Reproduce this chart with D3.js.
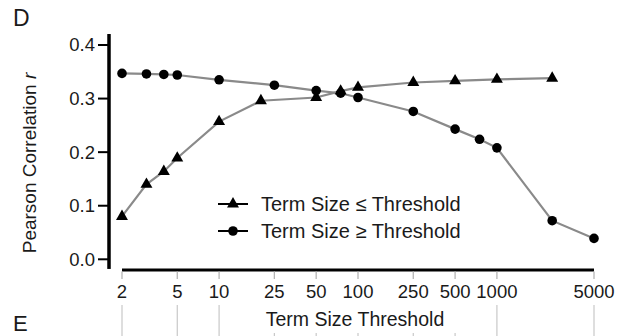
<!DOCTYPE html>
<html>
<head>
<meta charset="utf-8">
<script src="https://cdn.jsdelivr.net/npm/d3@7"></script>
<style>
  html, body { margin: 0; padding: 0; background: #fff; }
  svg { display: block; font-family: "Liberation Sans", Arial, Helvetica, sans-serif; }
</style>
</head>
<body>
<svg id="chart" width="629" height="336"></svg>
<script>
// Term size thresholds (x) and Pearson r for each cut-off direction
const thresholdsLE = [2, 3, 4, 5, 10, 20, 50, 75, 100, 250, 500, 1000, 2500];
const pearsonLE    = [0.080, 0.140, 0.164, 0.189, 0.257, 0.296, 0.302, 0.314, 0.321, 0.330, 0.333, 0.336, 0.338];

const thresholdsGE = [2, 3, 4, 5, 10, 25, 50, 75, 100, 250, 500, 750, 1000, 2500, 5000];
const pearsonGE    = [0.347, 0.346, 0.345, 0.344, 0.335, 0.325, 0.315, 0.310, 0.302, 0.276, 0.243, 0.224, 0.208, 0.072, 0.039];

const xTickValues = [2, 5, 10, 25, 50, 100, 250, 500, 1000, 5000];
const yTickValues = [0.0, 0.1, 0.2, 0.3, 0.4];

const seriesNames = ["Term Size \u2264 Threshold", "Term Size \u2265 Threshold"];

const svg = d3.select("#chart");
const ink = "#1a1a1a";

const x = d3.scaleLog().domain([2, 5000]).range([122, 594]);
const y = d3.scaleLinear().domain([0, 0.4]).range([259.3, 45]);

// Faint guide lines of the panel below, aligned with the x ticks
svg.append("g")
  .selectAll("line")
  .data(xTickValues)
  .join("line")
  .attr("x1", d => x(d)).attr("x2", d => x(d))
  .attr("y1", 305).attr("y2", 336)
  .attr("stroke", "#c8c8c8").attr("stroke-width", 1.2);

// Y axis: thick spine extending a little beyond the tick range
const yAxis = svg.append("g");
yAxis.append("line")
  .attr("x1", 109).attr("x2", 109)
  .attr("y1", y(0.4205)).attr("y2", y(-0.018))
  .attr("stroke", "#000").attr("stroke-width", 3.5);
yAxis.selectAll(".ytick")
  .data(yTickValues)
  .join("line")
  .attr("x1", 98).attr("x2", 109)
  .attr("y1", d => y(d)).attr("y2", d => y(d))
  .attr("stroke", "#000").attr("stroke-width", 2);
yAxis.selectAll(".ylab")
  .data(yTickValues)
  .join("text")
  .attr("x", 95).attr("y", d => y(d))
  .attr("dy", "0.35em")
  .attr("text-anchor", "end")
  .attr("font-size", 18.5)
  .attr("fill", ink)
  .text(d => d3.format(".1f")(d));

// X axis: thick spine spanning the domain, light ticks underneath
const xAxis = svg.append("g");
xAxis.append("line")
  .attr("x1", x(2)).attr("x2", x(5000))
  .attr("y1", 270).attr("y2", 270)
  .attr("stroke", "#000").attr("stroke-width", 3.2);
xAxis.selectAll(".xtick")
  .data(xTickValues)
  .join("line")
  .attr("x1", d => x(d)).attr("x2", d => x(d))
  .attr("y1", 271.5).attr("y2", 279)
  .attr("stroke", "#b5b5b5").attr("stroke-width", 1.3);
xAxis.selectAll(".xlab")
  .data(xTickValues)
  .join("text")
  .attr("x", d => x(d)).attr("y", 298)
  .attr("text-anchor", "middle")
  .attr("font-size", 18.5)
  .attr("fill", ink)
  .text(d => d);

// X axis title on a white plate
const xTitle = svg.append("g");
const xTitleText = xTitle.append("text")
  .attr("x", 355).attr("y", 326)
  .attr("text-anchor", "middle")
  .attr("font-size", 19.5)
  .attr("fill", ink)
  .text("Term Size Threshold");
const tb = xTitleText.node().getBBox();
xTitle.insert("rect", "text")
  .attr("x", tb.x - 15).attr("y", 303)
  .attr("width", tb.width + 30).attr("height", 30)
  .attr("fill", "#fff");

// Y axis title
const yTitle = svg.append("text")
  .attr("transform", "translate(36,163) rotate(-90)")
  .attr("text-anchor", "middle")
  .attr("font-size", 19)
  .attr("fill", ink);
yTitle.append("tspan").text("Pearson Correlation ");
yTitle.append("tspan").attr("font-style", "italic").text("r");

// Panel letters
svg.append("text").attr("x", 13).attr("y", 26)
  .attr("font-size", 23).attr("fill", ink).text("D");
svg.append("text").attr("x", 13).attr("y", 331)
  .attr("font-size", 22).attr("fill", ink).text("E");

// Series
const line = d3.line().x(d => x(d[0])).y(d => y(d[1]));
const triangle = d3.symbol().type(d3.symbolTriangle).size(62);
const circleR = 4.8;

const le = d3.zip(thresholdsLE, pearsonLE);
const ge = d3.zip(thresholdsGE, pearsonGE);

[le, ge].forEach(data => {
  svg.append("path")
    .datum(data)
    .attr("d", line)
    .attr("fill", "none")
    .attr("stroke", "#8a8a8a")
    .attr("stroke-width", 2.2);
});

svg.append("g").selectAll("path")
  .data(le)
  .join("path")
  .attr("d", triangle)
  .attr("transform", d => `translate(${x(d[0])},${y(d[1])})`)
  .attr("fill", "#000");

svg.append("g").selectAll("circle")
  .data(ge)
  .join("circle")
  .attr("cx", d => x(d[0])).attr("cy", d => y(d[1]))
  .attr("r", circleR)
  .attr("fill", "#000");

// Legend
const legend = svg.append("g");
const rows = [{ name: seriesNames[0], shape: "triangle", cy: 204 },
              { name: seriesNames[1], shape: "circle", cy: 231 }];
rows.forEach(r => {
  legend.append("line")
    .attr("x1", 218).attr("x2", 248)
    .attr("y1", r.cy).attr("y2", r.cy)
    .attr("stroke", "#000").attr("stroke-width", 2);
  if (r.shape === "triangle") {
    legend.append("path").attr("d", triangle)
      .attr("transform", `translate(233,${r.cy})`).attr("fill", "#000");
  } else {
    legend.append("circle").attr("cx", 233).attr("cy", r.cy)
      .attr("r", circleR).attr("fill", "#000");
  }
  legend.append("text")
    .attr("x", 261).attr("y", r.cy)
    .attr("dy", "0.35em")
    .attr("font-size", 20)
    .attr("fill", ink)
    .text(r.name);
});
</script>
</body>
</html>
